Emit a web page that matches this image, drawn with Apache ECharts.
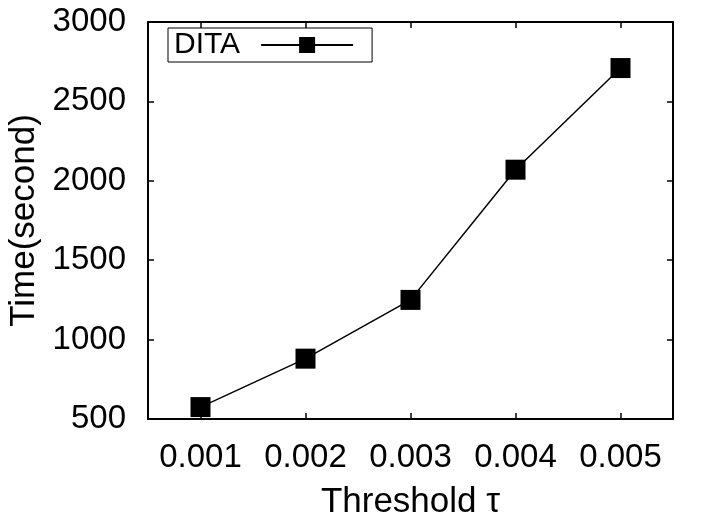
<!DOCTYPE html>
<html>
<head>
<meta charset="utf-8">
<script src="https://cdn.jsdelivr.net/npm/echarts@6/dist/echarts.min.js"></script>
<style>
  html, body { margin: 0; padding: 0; background: #fff; }
  #main { width: 713px; height: 525px; }
</style>
</head>
<body>
<div id="main"></div>
<script>
// threshold values on x
var thresholds = ['0.001', '0.002', '0.003', '0.004', '0.005'];
// DITA running time (s)
var ditaTime = [575, 880, 1250, 2070, 2710];
var yTicks = { min: 500, max: 3000, step: 500 };

var chart = echarts.init(document.getElementById('main'));
var font = 'Liberation Sans, Arial, Helvetica, sans-serif';
var axisLine = { show: true, onZero: false, lineStyle: { color: '#000', width: 2 } };
var tick = { show: true, inside: true, length: 6, alignWithLabel: true, lineStyle: { color: '#000', width: 1.5 } };

chart.setOption({
  animation: false,
  textStyle: { fontFamily: font },
  grid: { left: 148, right: 40, top: 22, bottom: 106, containLabel: false, outerBoundsMode: 'none' },
  legend: {
    left: 168,
    top: 28,
    align: 'right',
    borderColor: '#000',
    borderWidth: 1,
    borderRadius: 0,
    padding: [2, 18, 2, 6],
    itemWidth: 92,
    itemHeight: 20,
    itemGap: 0,
    textStyle: { fontSize: 30, color: '#000', fontFamily: font, padding: [0, 16, 0, 0] },
    data: ['DITA']
  },
  xAxis: [{
    type: 'category',
    data: thresholds,
    boundaryGap: true,
    name: 'Threshold τ',
    nameLocation: 'middle',
    nameGap: 66,
    nameTextStyle: { fontSize: 35, color: '#000', fontFamily: font },
    axisLine: axisLine,
    axisTick: tick,
    axisLabel: { fontSize: 33, color: '#000', margin: 22, interval: 0, hideOverlap: false, fontFamily: font },
    splitLine: { show: false }
  }, {
    type: 'category',
    data: thresholds,
    position: 'top',
    boundaryGap: true,
    axisLine: axisLine,
    axisTick: tick,
    axisLabel: { show: false },
    splitLine: { show: false }
  }],
  yAxis: [{
    type: 'value',
    min: yTicks.min,
    max: yTicks.max,
    interval: yTicks.step,
    name: 'Time(second)',
    nameLocation: 'middle',
    nameGap: 106,
    nameTextStyle: { fontSize: 35, color: '#000', fontFamily: font },
    axisLine: axisLine,
    axisTick: tick,
    axisLabel: { fontSize: 33, color: '#000', margin: 22, fontFamily: font, formatter: function (v) { return String(v); } },
    splitLine: { show: false }
  }, {
    type: 'value',
    position: 'right',
    min: yTicks.min,
    max: yTicks.max,
    interval: yTicks.step,
    axisLine: axisLine,
    axisTick: tick,
    axisLabel: { show: false },
    splitLine: { show: false }
  }],
  series: [{
    name: 'DITA',
    type: 'line',
    data: ditaTime,
    symbol: 'rect',
    symbolSize: 20,
    itemStyle: { color: '#000' },
    lineStyle: { color: '#000', width: 1.5 }
  }]
});
</script>
</body>
</html>
